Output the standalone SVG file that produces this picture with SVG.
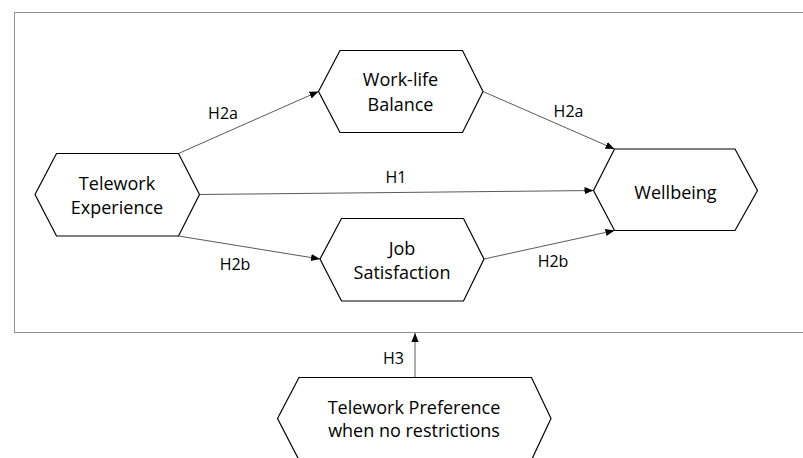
<svg xmlns="http://www.w3.org/2000/svg" width="803" height="458" viewBox="0 0 803 458">
  <style>
    .hex { fill: #ffffff; stroke: #000000; stroke-width: 1.2; }
    .lbl { font-family: "Open Sans", "Liberation Sans", sans-serif; font-size: 18px; fill: #000000; text-anchor: middle; }
    .hyp { font-family: "Open Sans", "Liberation Sans", sans-serif; font-size: 16px; fill: #000000; text-anchor: middle; }
    .edge { stroke: #303030; stroke-width: 0.8; fill: none; marker-end: url(#arrow); }
    .frame { fill: none; stroke: #222222; stroke-width: 1; stroke-dasharray: 1 1; }
  </style>
  <defs>
    <marker id="arrow" viewBox="0 0 10 10" refX="10" refY="5" markerWidth="9" markerHeight="9" markerUnits="userSpaceOnUse" orient="auto">
      <path d="M0,1 L10,5 L0,9 Z" fill="#000000"/>
    </marker>
  </defs>
  <rect width="803" height="458" fill="#ffffff"/>

  <!-- moderation frame -->
  <rect class="frame" x="14.5" y="12.5" width="800" height="320"/>

  <g id="telework-experience">
    <polygon class="hex" points="35,194.5 56.5,153.5 178.5,153.5 199.5,194.5 178.5,236 56.5,236"/>
    <text class="lbl" x="117" y="190">Telework</text>
    <text class="lbl" x="117" y="214">Experience</text>
  </g>

  <g id="work-life-balance">
    <polygon class="hex" points="318.5,91.5 340,50.5 462.5,50.5 483,91.5 462.5,132.5 340,132.5"/>
    <text class="lbl" x="400.5" y="86">Work-life</text>
    <text class="lbl" x="400.5" y="110.5">Balance</text>
  </g>

  <g id="job-satisfaction">
    <polygon class="hex" points="320,259 341.5,218.5 463.5,218.5 484,259 463.5,301 341.5,301"/>
    <text class="lbl" x="402" y="255">Job</text>
    <text class="lbl" x="402" y="278.5">Satisfaction</text>
  </g>

  <g id="wellbeing">
    <polygon class="hex" points="593.5,190.5 614.5,149 735,149 757.5,190.5 735,230.5 614.5,230.5"/>
    <text class="lbl" x="675.5" y="199">Wellbeing</text>
  </g>

  <g id="telework-preference">
    <polygon class="hex" points="277.5,418.5 299,377.5 531.5,377.5 551,418.5 531.5,460 299,460"/>
    <text class="lbl" x="414" y="413.5">Telework Preference</text>
    <text class="lbl" x="414" y="437">when no restrictions</text>
  </g>

  <g id="connectors">
    <line class="edge" x1="178.5" y1="153.5" x2="318.5" y2="91.5"/>
    <line class="edge" x1="483" y1="91.5" x2="614.5" y2="149"/>
    <line class="edge" x1="199.5" y1="194.5" x2="593.5" y2="190.5"/>
    <line class="edge" x1="178.5" y1="236" x2="320" y2="259"/>
    <line class="edge" x1="484" y1="259" x2="614.5" y2="230.5"/>
    <line class="edge" x1="415" y1="377.5" x2="415" y2="333"/>
    <text class="hyp" x="223" y="119">H2a</text>
    <text class="hyp" x="568.5" y="116.5">H2a</text>
    <text class="hyp" x="396" y="183">H1</text>
    <text class="hyp" x="235" y="269.5">H2b</text>
    <text class="hyp" x="553" y="267">H2b</text>
    <text class="hyp" x="393.5" y="363.5">H3</text>
  </g>
</svg>
